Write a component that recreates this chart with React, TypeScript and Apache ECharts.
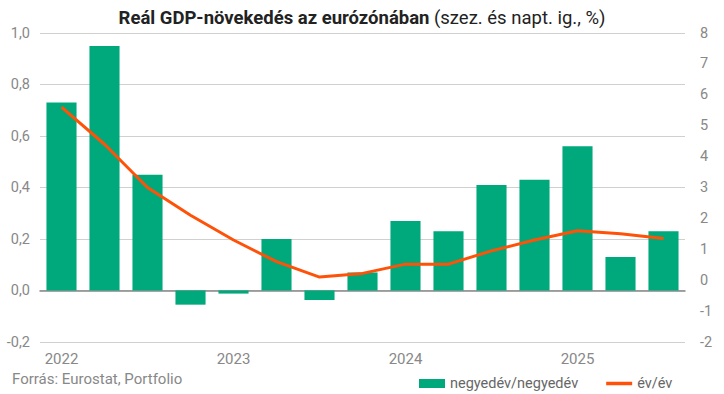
import React, { useEffect, useRef } from "react";
import * as echarts from "echarts";

const categories = [
  "2022 Q1", "2022 Q2", "2022 Q3", "2022 Q4",
  "2023 Q1", "2023 Q2", "2023 Q3", "2023 Q4",
  "2024 Q1", "2024 Q2", "2024 Q3", "2024 Q4",
  "2025 Q1", "2025 Q2", "2025 Q3",
];
const qoq = [0.73, 0.95, 0.45, -0.055, -0.012, 0.2, -0.037, 0.07, 0.27, 0.23, 0.41, 0.43, 0.56, 0.13, 0.23];
const yoy = [5.6, 4.4, 3.0, 2.1, 1.3, 0.6, 0.1, 0.22, 0.52, 0.52, 0.95, 1.3, 1.6, 1.5, 1.35];
const qoqName = "negyedév/negyedév";
const yoyName = "év/év";

const GREEN = "#00a97b";
const ORANGE = "#ff5208";
const FONT = "Roboto";

export default function App() {
  const ref = useRef<HTMLDivElement>(null);
  useEffect(() => {
    if (!ref.current) return;
    const chart = echarts.init(ref.current, undefined, { renderer: "svg" });
    chart.setOption({
      animation: false,
      textStyle: { fontFamily: FONT },
      title: {
        text: "{b|Reál GDP-növekedés az eurózónában} {n|(szez. és napt. ig., %)}",
        left: "center",
        top: 3,
        textStyle: {
          rich: {
            b: { fontFamily: FONT, fontSize: 18.5, fontWeight: "bold", color: "#222" },
            n: { fontFamily: FONT, fontSize: 18.5, fontWeight: "normal", color: "#222" },
          },
        },
      },
      graphic: [
        {
          type: "text",
          left: 12,
          top: 371,
          style: { text: "Forrás: Eurostat, Portfolio", fill: "#888", font: `15px ${FONT}` },
        },
      ],
      legend: {
        left: 414,
        top: 371,
        itemWidth: 26,
        itemHeight: 9,
        itemGap: 28,
        textStyle: { color: "#666", fontSize: 14.5, fontFamily: FONT },
        data: [
          { name: qoqName, icon: "rect" },
          { name: yoyName, icon: "path://M0 0h26v3.5H0z" },
        ],
      },
      grid: { left: 40, right: 39, top: 33, bottom: 52 },
      xAxis: {
        type: "category",
        data: categories,
        axisTick: { show: false },
        axisLine: { onZero: true, lineStyle: { color: "#888", width: 1.5 } },
        axisLabel: {
          color: "#888",
          fontSize: 15,
          margin: 9,
          interval: 0,
          formatter: (v: string, i: number) => (i % 4 === 0 ? v.slice(0, 4) : ""),
        },
      },
      yAxis: [
        {
          type: "value",
          min: -0.2,
          max: 1.0,
          interval: 0.2,
          axisLabel: {
            color: "#888",
            fontSize: 14.5,
            margin: 10,
            formatter: (v: number) => v.toFixed(1).replace(".", ","),
          },
          splitLine: { lineStyle: { color: "#d0d0d0", width: 1 } },
          axisLine: { show: false },
          axisTick: { show: false },
        },
        {
          type: "value",
          min: -2,
          max: 8,
          interval: 1,
          axisLabel: { color: "#888", fontSize: 14.5, margin: 15 },
          splitLine: { show: false },
          axisLine: { show: false },
          axisTick: { show: false },
        },
      ],
      series: [
        {
          name: qoqName,
          type: "bar",
          data: qoq,
          barWidth: "70%",
          itemStyle: { color: GREEN },
          yAxisIndex: 0,
        },
        {
          name: yoyName,
          type: "line",
          data: yoy,
          yAxisIndex: 1,
          symbol: "none",
          lineStyle: { color: ORANGE, width: 3 },
          itemStyle: { color: ORANGE },
        },
      ],
    });
    return () => chart.dispose();
  }, []);
  return <div ref={ref} style={{ width: 724, height: 394, position: "absolute", left: 0, top: 0 }} />;
}
